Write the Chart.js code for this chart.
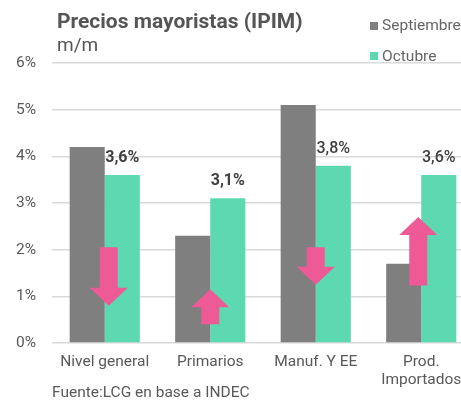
<!DOCTYPE html>
<html>
<head>
<meta charset="utf-8">
<script src="https://cdn.jsdelivr.net/npm/chart.js@4"></script>
<style>
  html, body { margin: 0; padding: 0; background: #fff; overflow: hidden; }
  #wrap { width: 474px; height: 400px; }
</style>
</head>
<body>
<div id="wrap"><canvas id="chart" width="474" height="400"></canvas></div>
<script>
// datos del gráfico
const categorias = ['Nivel general', 'Primarios', 'Manuf. Y EE', ['Prod.', 'Importados']];
const septiembre = [4.2, 2.3, 5.1, 1.7];
const octubre = [3.6, 3.1, 3.8, 3.6];
const etiquetasOct = ['3,6%', '3,1%', '3,8%', '3,6%'];
const ticksY = [0, 1, 2, 3, 4, 5, 6];

// flechas (desde / hasta, en %)
const flechaDesde = [2.05, 0.4, 2.05, 1.23];
const flechaHasta = [0.8, 1.15, 1.25, 2.7];
const flechaCorrimiento = [4, 0, 0, -3];

const gris = '#7f7f7f';
const verde = '#5cd9b1';
const rosa = '#ee5a96';
const textoColor = '#595959';

// Plugin para título, leyenda, etiquetas, flechas y fuente
const extras = {
    id: 'extras',
    afterDatasetsDraw(chart) {
        const ctx = chart.ctx;
        const x = chart.scales.x;
        const y = chart.scales.y;

        // flechas
        ctx.save();
        ctx.fillStyle = rosa;
        for (let i = 0; i < flechaDesde.length; i++) {
            const cx = x.getPixelForValue(i) + flechaCorrimiento[i];
            const y0 = y.getPixelForValue(flechaDesde[i]);
            const y1 = y.getPixelForValue(flechaHasta[i]);
            const dir = y1 > y0 ? 1 : -1;
            const cabeza = 18;
            const yb = y1 - dir * cabeza;
            ctx.beginPath();
            ctx.moveTo(cx - 9, y0);
            ctx.lineTo(cx + 9, y0);
            ctx.lineTo(cx + 9, yb);
            ctx.lineTo(cx + 19, yb);
            ctx.lineTo(cx, y1);
            ctx.lineTo(cx - 19, yb);
            ctx.lineTo(cx - 9, yb);
            ctx.closePath();
            ctx.fill();
        }
        ctx.restore();

        // etiquetas de octubre
        ctx.save();
        const meta = chart.getDatasetMeta(1);
        ctx.fillStyle = '#404040';
        ctx.textAlign = 'center';
        ctx.textBaseline = 'middle';
        meta.data.forEach((bar, i) => {
            ctx.font = (i < 2 ? 'bold' : '500') + ' 16px Roboto';
            ctx.fillText(etiquetasOct[i], bar.x, bar.y - 17);
        });
        ctx.restore();
    },
    afterDraw(chart) {
        const ctx = chart.ctx;
        ctx.save();
        ctx.textBaseline = 'alphabetic';
        ctx.textAlign = 'left';

        // título
        ctx.fillStyle = '#555555';
        ctx.font = 'bold 21px Roboto';
        ctx.fillText('Precios mayoristas (IPIM)', 57, 28);
        ctx.font = '19px Roboto';
        ctx.fillText('m/m', 57, 51);

        // leyenda
        ctx.font = '15.5px Roboto';
        ctx.fillStyle = gris;
        ctx.fillRect(370, 22, 8, 8);
        ctx.fillStyle = verde;
        ctx.fillRect(370, 52, 8, 8);
        ctx.fillStyle = '#666666';
        ctx.fillText('Septiembre', 382, 30);
        ctx.fillText('Octubre', 382, 60.5);

        // fuente
        ctx.fillStyle = textoColor;
        ctx.fillText('Fuente:LCG en base a INDEC', 52, 397);
        ctx.restore();
    }
};

const ctx = document.getElementById('chart').getContext('2d');
new Chart(ctx, {
    type: 'bar',
    data: {
        labels: categorias,
        datasets: [{
            label: 'Septiembre',
            data: septiembre,
            backgroundColor: gris
        }, {
            label: 'Octubre',
            data: octubre,
            backgroundColor: verde
        }]
    },
    options: {
        responsive: false,
        animation: false,
        layout: { padding: { top: 63, left: 0, right: 0, bottom: 0 } },
        categoryPercentage: 0.665,
        barPercentage: 1,
        plugins: {
            legend: { display: false },
            tooltip: { enabled: false }
        },
        scales: {
            x: {
                afterFit(axis) { axis.height = 57; },
                grid: { display: false, drawTicks: false },
                border: { display: false },
                ticks: {
                    color: textoColor,
                    font: { family: 'Roboto', size: 15.5, lineHeight: 1.16 },
                    padding: 10.5,
                    maxRotation: 0
                }
            },
            y: {
                min: 0,
                max: 6,
                afterFit(axis) { axis.width = 52; },
                afterBuildTicks(axis) {
                    axis.ticks = ticksY.map(v => ({ value: v }));
                },
                grid: { color: '#d9d9d9', lineWidth: 1.5, drawTicks: false },
                border: { display: false },
                ticks: {
                    color: textoColor,
                    font: { family: 'Roboto', size: 15.5 },
                    padding: 16,
                    callback: v => v + '%'
                }
            }
        }
    },
    plugins: [extras]
});
</script>
</body>
</html>
